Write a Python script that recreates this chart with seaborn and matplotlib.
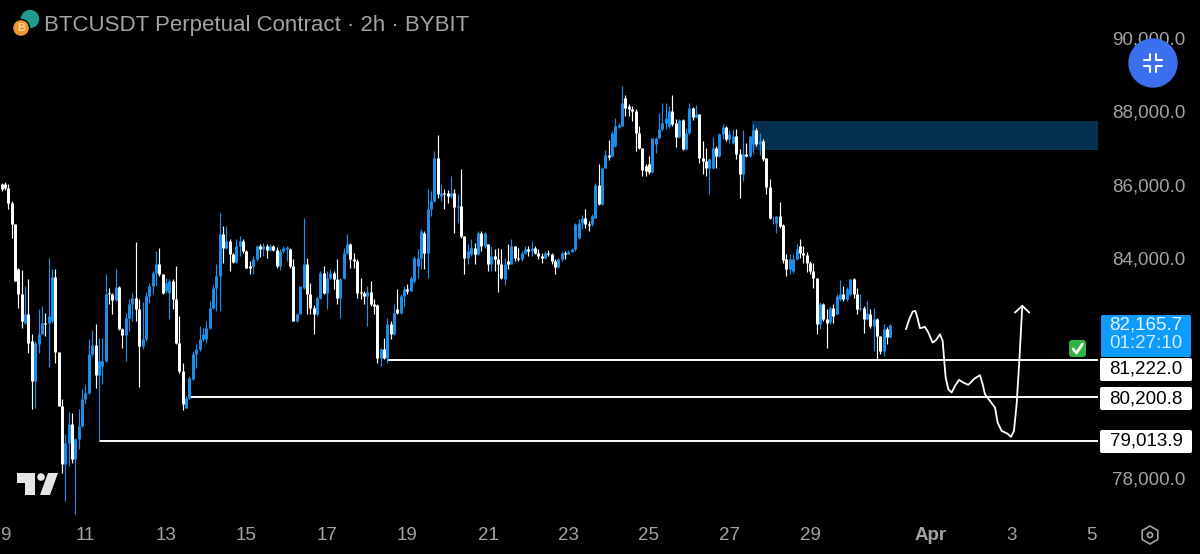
import matplotlib
matplotlib.use("Agg")
import matplotlib.pyplot as plt
from matplotlib.patches import Circle, FancyBboxPatch, Polygon, RegularPolygon
import seaborn as sns
import pandas as pd

# 2h candles, Mar 9 onwards
opens = [86009, 86009, 85918, 85509, 84919, 83691, 83010, 82237, 82483, 81737, 80646, 81646, 81919, 82237, 82237, 82283, 83482, 81437, 79965, 78374,
         78965, 79465, 78510, 79056, 79419, 80146, 80328, 81373, 81628, 80810, 81055, 81192, 83055, 83028, 82846, 83219, 82055, 81901, 82373, 82737,
         82919, 82601, 81601, 81783, 82964, 83237, 83601, 83828, 83555, 83101, 83055, 83373, 82873, 81692, 80919, 79919, 80192, 80692, 81373, 81510,
         81783, 81783, 82101, 82646, 83192, 83510, 84646, 84282, 84464, 84119, 83901, 84328, 84464, 84191, 83782, 83782, 83964, 84328, 84237, 84328,
         84219, 84328, 84219, 83782, 84191, 84237, 84237, 83782, 82282, 82464, 83191, 83828, 83009, 82646, 82464, 82918, 83600, 83055, 83464, 83600,
         83418, 82918, 83464, 84146, 84391, 83964, 83918, 83082, 83055, 82964, 83082, 82736, 82718, 81282, 81509, 81264, 82191, 81937, 82600, 82491,
         82964, 83146, 83100, 83373, 83782, 84009, 84691, 84146, 85327, 85555, 86718, 85691, 85782, 85782, 85691, 85782, 85391, 85418, 84600, 84009,
         84100, 84282, 84100, 84691, 84327, 84373, 83846, 84055, 83964, 83846, 83418, 83918, 83846, 84327, 84009, 83964, 84146, 84236, 84191, 84282,
         84146, 84055, 84009, 84146, 84100, 83918, 83755, 83964, 84146, 84118, 84173, 84236, 84555, 84964, 85100, 84918, 84918, 85100, 85991, 85464,
         86464, 86809, 86782, 87054, 87582, 87600, 88373, 88145, 88054, 88009, 87418, 87009, 86509, 86555, 86354, 87100, 87282, 87509, 87691, 87600,
         88009, 87691, 87300, 87754, 86964, 87418, 88082, 87845, 87918, 86718, 86645, 86445, 86445, 87009, 86782, 87373, 87573, 87236, 87145, 87327,
         86845, 86282, 86845, 86782, 87100, 87482, 87100, 87191, 86718, 85936, 85082, 84964, 85145, 84900, 83964, 83691, 83645, 83964, 84327, 84146,
         84082, 83873, 83645, 83464, 82191, 82755, 82327, 82264, 82645, 82464, 82873, 83009, 82873, 83009, 83418, 83009, 82600, 82645, 82327, 82482,
         82145, 82327, 81873, 81464, 82055, 81845]
highs = [86055, 86082, 86009, 85555, 84919, 83737, 83664, 83237, 83419, 81937, 81737, 82601, 82691, 82510, 83991, 83691, 83691, 81437, 80146, 79192,
         79810, 79783, 79101, 79874, 80419, 80555, 81801, 82028, 82210, 81828, 81828, 83573, 83192, 83055, 83691, 83237, 82083, 82510, 82873, 83055,
         84437, 82873, 82800, 83073, 83328, 83646, 84191, 84282, 83555, 83464, 83419, 83419, 83782, 82419, 81146, 80237, 80783, 81464, 81646, 82146,
         82101, 82283, 82828, 83264, 83828, 85237, 84873, 84873, 84510, 84146, 84510, 84601, 84510, 84210, 83919, 84055, 84355, 84373, 84419, 84391,
         84391, 84355, 84300, 84237, 84328, 84328, 84264, 83964, 82509, 82464, 85082, 84009, 83327, 82718, 82964, 83645, 83782, 83645, 83691, 83645,
         83964, 83464, 84282, 84664, 84418, 84146, 83964, 83464, 83100, 83236, 83373, 82873, 82755, 81555, 81827, 82373, 82282, 82736, 83146, 83009,
         83236, 83282, 83509, 84055, 84236, 84782, 84736, 85873, 85827, 86918, 87354, 86009, 85873, 85845, 86236, 85873, 85736, 86436, 84600, 84373,
         84509, 84418, 84736, 84736, 84718, 84373, 84327, 84236, 84282, 84236, 84009, 84373, 84509, 84327, 84282, 84191, 84327, 84327, 84464, 84327,
         84236, 84146, 84191, 84218, 84146, 83964, 83991, 84191, 84191, 84209, 84264, 84964, 85055, 85173, 85327, 85009, 85191, 86055, 86555, 86482,
         86936, 87209, 87464, 87827, 87691, 88691, 88445, 88191, 88145, 88055, 87600, 87009, 86555, 86782, 87282, 87300, 87963, 88236, 88236, 88145,
         88445, 87782, 87782, 87782, 87554, 88236, 88118, 88173, 87936, 87191, 86991, 86736, 87300, 87054, 87418, 87664, 87600, 87482, 87509, 87509,
         86964, 87482, 87145, 87327, 87664, 87554, 87418, 87236, 86718, 86145, 85145, 85145, 85536, 84918, 84118, 84118, 84100, 84373, 84509, 84327,
         84173, 83918, 83873, 83464, 82809, 82782, 82600, 82691, 82736, 83009, 83391, 83236, 83209, 83418, 83445, 83191, 83009, 82691, 82827, 82600,
         82645, 82355, 81873, 82209, 82118, 82209]
lows = [85828, 85846, 85328, 84555, 83373, 82646, 82101, 82192, 81419, 79874, 79901, 81419, 81919, 81873, 81028, 82237, 81146, 79965, 78146, 77374,
        78328, 78419, 77010, 78783, 79392, 80010, 80283, 81328, 80465, 79014, 80555, 81174, 82737, 82483, 82828, 82028, 81537, 81192, 82010, 82283,
        82283, 80483, 81510, 81737, 82782, 83010, 83237, 83510, 83010, 83055, 82328, 82601, 81646, 80873, 79855, 79901, 80146, 80665, 81010, 81464,
        81737, 81692, 82055, 82601, 82555, 82555, 83873, 84237, 83646, 83873, 83873, 84055, 84146, 83719, 83555, 83573, 83919, 84028, 84055, 84010,
        84191, 84191, 83737, 83664, 84146, 83919, 83737, 82283, 82264, 82464, 83146, 82464, 82464, 81919, 82418, 82873, 83009, 82600, 83418, 83146,
        82737, 82373, 83418, 84100, 83736, 83736, 82918, 82873, 82755, 82146, 82691, 82464, 81146, 81055, 81236, 81146, 81782, 81900, 82464, 82464,
        82691, 83009, 83100, 83327, 83464, 83691, 83691, 83464, 85145, 85536, 85645, 85555, 85327, 85509, 85645, 84691, 84964, 84555, 83573, 83827,
        84055, 83827, 84082, 84191, 84282, 83645, 83645, 83645, 83082, 83418, 83264, 83691, 83827, 83918, 83918, 83918, 84100, 84055, 84055, 84100,
        83964, 83873, 83964, 84055, 83827, 83573, 83718, 83918, 83964, 84100, 84191, 84191, 84509, 84782, 84827, 84736, 84873, 85082, 85445, 85445,
        86445, 86663, 86754, 87036, 87554, 87600, 87873, 87873, 87736, 86918, 86964, 86236, 86236, 86282, 86327, 86873, 87264, 87464, 87509, 87554,
        87600, 87027, 87282, 86936, 86936, 87391, 87754, 87827, 86600, 86300, 86236, 85754, 86418, 86464, 86754, 87236, 87191, 87145, 87118, 86691,
        85645, 86100, 86754, 86754, 86873, 87054, 86809, 86645, 85736, 85055, 84918, 84691, 84809, 83873, 83509, 83573, 83600, 83936, 84009, 83873,
        83627, 83555, 83173, 81918, 82055, 82282, 81555, 82209, 82236, 82464, 82827, 82827, 82827, 82964, 82918, 82482, 82555, 81964, 82300, 82100,
        81464, 81209, 81373, 81327, 81646, 81827]
closes = [85873, 85918, 85509, 84919, 83373, 83010, 82283, 82464, 81692, 80646, 81692, 81919, 82237, 82210, 82419, 83482, 81437, 79965, 78374, 78965,
          79465, 78510, 79056, 79419, 80146, 80328, 81373, 81628, 80810, 81192, 81192, 83028, 83028, 82846, 83219, 82055, 81901, 82373, 82737, 82919,
          82601, 81601, 81783, 82964, 83237, 83601, 83828, 83555, 83055, 83328, 83373, 82873, 81692, 80919, 80010, 80192, 80737, 81373, 81510, 81783,
          81919, 82101, 82646, 83192, 83510, 84646, 84282, 84464, 84119, 83901, 84328, 84464, 84191, 83737, 83737, 83964, 84328, 84237, 84328, 84219,
          84328, 84219, 83782, 84191, 84282, 84300, 83782, 82283, 82464, 83237, 83828, 83009, 82646, 82482, 82918, 83600, 83055, 83464, 83600, 83418,
          82918, 83418, 84146, 84373, 83964, 83918, 83055, 83055, 82964, 83082, 82736, 82691, 81282, 81509, 81264, 82191, 81937, 82491, 82491, 82964,
          83146, 83100, 83464, 84009, 84009, 84736, 84146, 85327, 85555, 86718, 85736, 85782, 85736, 85691, 85782, 85391, 85418, 84600, 84009, 84191,
          84282, 84100, 84691, 84327, 84691, 83846, 84055, 83964, 83846, 83464, 83827, 83846, 84327, 84009, 83964, 84146, 84236, 84191, 84282, 84146,
          84055, 84009, 84146, 84100, 83918, 83755, 83964, 84146, 84118, 84173, 84236, 84918, 84964, 85100, 84918, 84900, 85145, 85991, 85464, 86464,
          86809, 86754, 87418, 87600, 87618, 88236, 88100, 88054, 88009, 87418, 87009, 86391, 86373, 86354, 87264, 87282, 87509, 87691, 87827, 88009,
          87645, 87300, 87754, 86964, 87418, 88082, 87845, 87918, 86718, 86645, 86464, 86691, 87009, 86782, 87373, 87573, 87236, 87373, 87327, 86845,
          86282, 86845, 86782, 87327, 87482, 87100, 87191, 86691, 85936, 85082, 85100, 85145, 84873, 83936, 83691, 83964, 83964, 84236, 84146, 84082,
          83873, 83645, 83464, 82191, 82755, 82327, 82236, 82645, 82418, 82964, 83009, 82873, 83146, 83418, 83009, 82600, 82645, 82327, 82509, 82145,
          82327, 81873, 81464, 82055, 81845, 82166]

# hand-drawn projection and its arrow head (candle index, price)
path_x = [269.63, 270.62, 271.62, 272.41, 273.01, 273.80, 275.29, 276.29, 277.58, 278.57, 279.77, 280.56, 280.96, 281.46, 282.25, 283.24, 284.24, 285.43,
          286.72, 288.21, 290.20, 291.69, 292.49, 293.18, 294.67, 296.16, 296.96, 298.15, 299.84, 300.93, 301.83, 302.62, 303.42, 304.01, 304.31]
path_y = [82056, 82328, 82537, 82556, 82374, 82083, 82119, 81965, 81692, 81756, 81919, 81737, 81283, 80738, 80419, 80329, 80510, 80674,
          80601, 80538, 80719, 80801, 80556, 80283, 80101, 79920, 79510, 79283, 79210, 79120, 79283, 80010, 81192, 82192, 82692]
arrow_x = [302.13, 304.31, 306.40]
arrow_y = [82510, 82692, 82510]

levels = [81222.0, 80200.8, 79013.9]
level_start = [115, 56, 29]
level_labels = ["81,222.0", "80,200.8", "79,013.9"]

zone_x = [223.7, 327]
zone_top = 87734
zone_bottom = 86943

price_ticks = [78000, 84000, 86000, 88000, 90000]
price_tick_labels = ["78,000.0", "84,000.0", "86,000.0", "88,000.0", "90,000.0"]
day_ticks = [1, 25, 49, 73, 97, 121, 145, 169, 193, 217, 241, 277, 301, 325]
day_labels = ["9", "11", "13", "15", "17", "19", "21", "23", "25", "27", "29", "Apr", "3", "5"]

BLUE = "#1c8fe8"
WHITE = "#ffffff"
GREY = "#a3a3a7"

sns.set_theme(style="dark", rc={"axes.facecolor": "black", "figure.facecolor": "black"})
plt.rcParams["font.family"] = ["Liberation Sans", "DejaVu Sans"]

fig = plt.figure(figsize=(12, 5.54), dpi=100)
ax = fig.add_axes([0, 34 / 554, 1098 / 1200, 520 / 554])

# candles as two long tables, one row per end of wick / body
side = ["up" if c >= o else "down" for o, c in zip(opens, closes)]
idx = list(range(len(opens)))
wicks = pd.DataFrame({"i": idx + idx, "price": highs + lows, "side": side + side})
bodies = pd.DataFrame({"i": idx + idx, "price": opens + closes, "side": side + side})
palette = {"up": BLUE, "down": WHITE}

ax.fill_between(zone_x, zone_bottom, zone_top, color="#04304f", lw=0, zorder=1)
for level, start in zip(levels, level_start):
    ax.hlines(level, start, 327, color="white", lw=1.4, zorder=1.5)

sns.lineplot(data=wicks, x="i", y="price", hue="side", units="i", estimator=None, palette=palette,
             lw=0.85, legend=False, solid_capstyle="butt", ax=ax, zorder=2)
sns.lineplot(data=bodies, x="i", y="price", hue="side", units="i", estimator=None, palette=palette,
             lw=2.15, legend=False, solid_capstyle="butt", ax=ax, zorder=3)

sns.lineplot(x=path_x, y=path_y, sort=False, estimator=None, color="white", lw=1.3,
             solid_joinstyle="round", ax=ax, zorder=4)
sns.lineplot(x=arrow_x, y=arrow_y, sort=False, estimator=None, color="white", lw=1.3, ax=ax, zorder=4)

ax.set_xlim(-0.49, 326.88)
ax.set_ylim(76853, 91033)
ax.set_xlabel("")
ax.set_ylabel("")
ax.grid(False)
for spine in ax.spines.values():
    spine.set_visible(False)

ax.yaxis.tick_right()
ax.set_yticks(price_ticks, price_tick_labels)
ax.set_xticks(day_ticks, day_labels)
ax.tick_params(axis="y", length=0, pad=10, labelsize=13.5, labelcolor=GREY)
ax.tick_params(axis="x", length=0, pad=5, labelsize=13.5, labelcolor=GREY)
for lab in ax.get_xticklabels():
    if lab.get_text() == "Apr":
        lab.set_fontweight("bold")

# overlay in picture pixels for the app's chrome: title, price tags, icons
top = fig.add_axes([0, 0, 1, 1], facecolor="none")
top.set_xlim(0, 1200)
top.set_ylim(554, 0)
top.axis("off")

top.text(44, 25, "BTCUSDT Perpetual Contract · 2h · BYBIT", color=GREY, fontsize=16.0, va="center", ha="left")
top.add_patch(Circle((30, 19), 8.5, color="#1f9b8f"))
top.add_patch(Circle((21, 28), 8.5, color="#f0962c", ec="black", lw=1))
top.text(21, 28, "B", color="#ffd9a0", fontsize=8, fontweight="bold", ha="center", va="center")

# price tags
top.add_patch(FancyBboxPatch((1101, 315), 90, 42, boxstyle="round,pad=0,rounding_size=2", fc="#0d9bff", ec="none"))
top.text(1146, 325, "82,165.7", color="#e6f5ff", fontsize=13.5, ha="center", va="center")
top.text(1146, 344, "01:27:10", color="#cdeaff", fontsize=13.5, ha="center", va="center")
for lab, y0 in zip(level_labels, [358, 387, 430]):
    top.add_patch(FancyBboxPatch((1100, y0), 92, 23, boxstyle="round,pad=0,rounding_size=2", fc="white", ec="none"))
    top.text(1146, y0 + 11.5, lab, color="black", fontsize=13.5, ha="center", va="center")

# check mark
top.add_patch(FancyBboxPatch((1069, 340), 17, 17, boxstyle="round,pad=0,rounding_size=3", fc="#2fb344", ec="none"))
top.plot([1073, 1076.5, 1082.5], [349, 353, 344], color="white", lw=2, solid_capstyle="round")

# collapse button
top.add_patch(Circle((1153, 63), 24, color="#3a6ff0", zorder=5))
for sx, sy in [(-1, -1), (1, -1), (-1, 1), (1, 1)]:
    top.plot([1153 + sx * 9, 1153 + sx * 3, 1153 + sx * 3], [63 + sy * 3, 63 + sy * 3, 63 + sy * 9],
             color="white", lw=1.5, zorder=6)

# tradingview mark
logo = "#e4e4e4"
top.add_patch(Polygon([(17, 473), (35, 473), (35, 495), (25, 495), (25, 483), (17, 483)], fc=logo, ec="none"))
top.add_patch(Circle((41, 477), 3.8, fc=logo, ec="none"))
top.add_patch(Polygon([(48, 473), (58, 473), (50, 495), (40, 495)], fc=logo, ec="none"))

# settings hexagon
top.add_patch(RegularPolygon((1150, 535), 6, radius=9, fc="none", ec=GREY, lw=1.2))
top.add_patch(Circle((1150, 535), 2.6, fc="none", ec=GREY, lw=1.2))

fig.savefig("out.png", dpi=100, facecolor="black")
